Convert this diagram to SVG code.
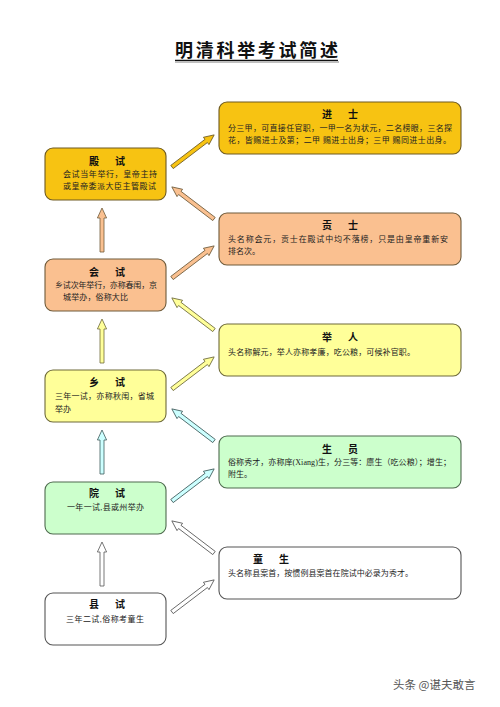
<svg xmlns="http://www.w3.org/2000/svg" xmlns:xlink="http://www.w3.org/1999/xlink" width="500" height="707" viewBox="0 0 500 707">
<style>
.box{stroke-width:1.1}
.gold{fill:#F7C312;stroke:#6E5A22}
.peach{fill:#FAC090;stroke:#6E5A3A}
.yel{fill:#FFFF99;stroke:#6E6A3A}
.grn{fill:#CCFFCC;stroke:#4E6A4E}
.wht{fill:#FFFFFF;stroke:#555555}
.cyan{fill:#CCFFFF;stroke:#3E5A5A}
.arr{stroke-width:0.8;stroke-linejoin:miter}
.t{font-family:"Noto Sans CJK SC","Liberation Serif",serif;font-size:10px;font-weight:bold;fill:#111;text-anchor:middle}
.b{font-family:"Liberation Serif","Noto Sans CJK SC",serif;font-size:8px;fill:#222}
.title{font-family:"Noto Sans CJK SC","Liberation Sans",sans-serif;font-size:18px;font-weight:bold;fill:#111}
.wm{font-family:"Noto Sans CJK SC","Liberation Sans",sans-serif;font-size:11.5px;fill:#555}
</style>
<defs>
<polygon id="ad" points="0,-2 43,-2 43,-4.6 53,0 43,4.6 43,2 0,2"/>
<polygon id="av" points="0,-2 34,-2 34,-4.6 44,0 34,4.6 34,2 0,2"/>
</defs>
<rect width="500" height="707" fill="#FFFFFF"/>
<text class="title" x="175" y="57" textLength="163" lengthAdjust="spacing">明清科举考试简述</text>
<line x1="175" y1="62" x2="339" y2="62" stroke="#AAAAAA" stroke-width="1.4"/>
<line x1="175" y1="60.3" x2="338" y2="60.3" stroke="#111" stroke-width="1.3"/>

<g id="connectors">
<use xlink:href="#ad" class="arr gold" transform="translate(172,167) rotate(-37.3)"/>
<use xlink:href="#ad" class="arr peach" transform="translate(214,219) rotate(217.3)"/>
<use xlink:href="#av" class="arr peach" transform="translate(102,252) rotate(-90)"/>
<use xlink:href="#ad" class="arr peach" transform="translate(172,278) rotate(-37.3)"/>
<use xlink:href="#ad" class="arr yel" transform="translate(214,330) rotate(217.3)"/>
<use xlink:href="#av" class="arr yel" transform="translate(102,363) rotate(-90)"/>
<use xlink:href="#ad" class="arr yel" transform="translate(172,389) rotate(-37.3)"/>
<use xlink:href="#ad" class="arr cyan" transform="translate(214,441) rotate(217.3)"/>
<use xlink:href="#av" class="arr cyan" transform="translate(102,474) rotate(-90)"/>
<use xlink:href="#ad" class="arr cyan" transform="translate(172,501) rotate(-37.3)"/>
<use xlink:href="#ad" class="arr wht" transform="translate(214,553) rotate(217.3)"/>
<use xlink:href="#av" class="arr wht" transform="translate(102,586) rotate(-90)"/>
<use xlink:href="#ad" class="arr wht" transform="translate(172,612) rotate(-37.3)"/>
</g>

<g id="dianshi">
<rect class="box gold" x="45" y="148" width="121" height="52" rx="8"/>
<text class="t" x="108.5" y="165" letter-spacing="3">殿　试</text>
<text class="b" x="63" y="177" textLength="94" lengthAdjust="spacing">会试当年举行，皇帝主持</text>
<text class="b" x="63" y="189" textLength="93" lengthAdjust="spacing">或皇帝委派大臣主管殿试</text>
</g>
<g id="huishi">
<rect class="box peach" x="45" y="259" width="121" height="52" rx="8"/>
<text class="t" x="108.5" y="276" letter-spacing="3">会　试</text>
<text class="b" x="55" y="288" textLength="102" lengthAdjust="spacing">乡试次年举行，亦称春闱，京</text>
<text class="b" x="63" y="300" textLength="65" lengthAdjust="spacing">城举办，俗称大比</text>
</g>
<g id="xiangshi">
<rect class="box yel" x="45" y="370" width="121" height="52" rx="8"/>
<text class="t" x="108.5" y="386" letter-spacing="3">乡　试</text>
<text class="b" x="55" y="399" textLength="99" lengthAdjust="spacing">三年一试，亦称秋闱，省城</text>
<text class="b" x="55" y="411.5">举办</text>
</g>
<g id="yuanshi">
<rect class="box grn" x="45" y="482" width="121" height="52" rx="8"/>
<text class="t" x="108.5" y="497" letter-spacing="3">院　试</text>
<text class="b" x="67" y="510" textLength="77" lengthAdjust="spacing">一年一试,县或州举办</text>
</g>
<g id="xianshi">
<rect class="box wht" x="45" y="593" width="121" height="52" rx="8"/>
<text class="t" x="108.5" y="608" letter-spacing="3">县　试</text>
<text class="b" x="66" y="622" textLength="78" lengthAdjust="spacing">三年二试,俗称考童生</text>
</g>

<g id="jinshi">
<rect class="box gold" x="219" y="102" width="242" height="52" rx="8"/>
<text class="t" x="341.5" y="118" letter-spacing="3">进　士</text>
<text class="b" x="228" y="131" textLength="224" lengthAdjust="spacing">分三甲，可直接任官职，一甲一名为状元，二名榜眼，三名探</text>
<text class="b" x="228" y="143" textLength="223" lengthAdjust="spacing">花，皆赐进士及第；二甲 赐进士出身；三甲 赐同进士出身。</text>
</g>
<g id="gongshi">
<rect class="box peach" x="219" y="213" width="242" height="52" rx="8"/>
<text class="t" x="341.5" y="229" letter-spacing="3">贡　士</text>
<text class="b" x="228" y="242" textLength="220" lengthAdjust="spacing">头名称会元，贡士在殿试中均不落榜，只是由皇帝重新安</text>
<text class="b" x="228" y="254">排名次。</text>
</g>
<g id="juren">
<rect class="box yel" x="219" y="324" width="242" height="52" rx="8"/>
<text class="t" x="341.5" y="341" letter-spacing="3">举　人</text>
<text class="b" x="228" y="354.5" textLength="187" lengthAdjust="spacing">头名称解元，举人亦称孝廉，吃公粮，可候补官职。</text>
</g>
<g id="shengyuan">
<rect class="box grn" x="219" y="436" width="242" height="52" rx="8"/>
<text class="t" x="341.5" y="452.5" letter-spacing="3">生　员</text>
<text class="b" x="228" y="465" textLength="223" lengthAdjust="spacing">俗称秀才，亦称庠(Xiang)生，分三等：廪生（吃公粮）；增生；</text>
<text class="b" x="228" y="477">附生。</text>
</g>
<g id="tongsheng">
<rect class="box wht" x="219" y="547" width="242" height="52" rx="8"/>
<text class="t" x="272.5" y="563" letter-spacing="3">童　生</text>
<text class="b" x="228" y="576" textLength="185" lengthAdjust="spacing">头名称县案首，按惯例县案首在院试中必录为秀才。</text>
</g>

<text class="wm" x="393" y="689">头条 @谌夫敢言</text>
</svg>
